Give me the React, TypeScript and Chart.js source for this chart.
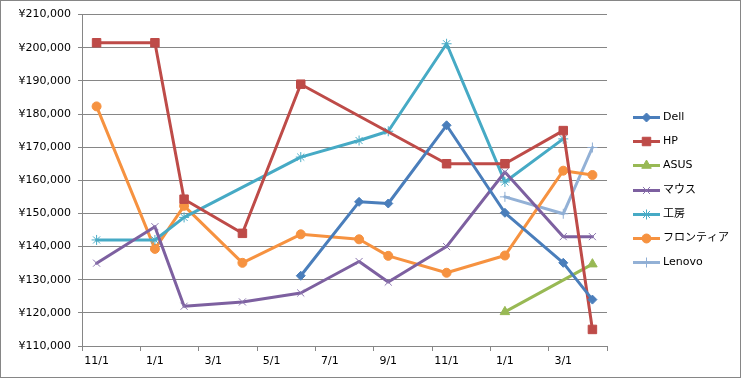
import React, { useEffect, useRef } from "react";
import { Chart, registerables } from "chart.js";
import { drawPoint } from "chart.js/helpers";

Chart.register(...registerables);

const MONTHS = ["11/1", "12/1", "1/1", "2/1", "3/1", "4/1", "5/1", "6/1", "7/1", "8/1", "9/1", "10/1", "11/1", "12/1", "1/1", "2/1", "3/1", "4/1"];

const DELL = [null, null, null, null, null, null, null, 131200, null, 153500, 153000, null, 176600, null, 150200, null, 135100, 124000];
const HP = [201500, null, 201500, 154300, null, 144000, null, 189000, null, null, null, null, 165000, null, 165000, null, 175000, 115000];
const ASUS = [null, null, null, null, null, null, null, null, null, null, null, null, null, null, 120300, null, null, 134700];
const MOUSE = [135000, null, 146000, 122000, null, 123300, null, 126000, null, 135500, 129300, null, 140000, null, 162500, null, 143000, 143000];
const KOBO = [142000, null, 142000, 148800, null, null, null, 167000, null, 172000, 174800, null, 201200, null, 159500, null, 172500, null];
const FRONTIER = [182300, null, 139300, 152300, null, 135100, null, 143700, null, 142200, 137200, null, 132100, null, 137300, null, 162900, 161600];
const LENOVO = [null, null, null, null, null, null, null, null, null, null, null, null, null, null, 155000, null, 149900, 169900];

const Y_MIN = 110000;
const Y_MAX = 210000;
const Y_STEP = 10000;

const FONT = '"DejaVu Sans", "Noto Sans CJK JP", sans-serif';
const GRID = "#868686";

const legendPlugin = {
  id: "sideLegend",
  afterDraw(chart: any) {
    const ctx = chart.ctx;
    const top = 116;
    const step = 24.2;
    chart.data.datasets.forEach((ds: any, i: number) => {
      const y = Math.round(top + i * step) + 0.5;
      ctx.save();
      ctx.strokeStyle = ds.borderColor;
      ctx.lineWidth = 3;
      ctx.beginPath();
      ctx.moveTo(632, y);
      ctx.lineTo(659, y);
      ctx.stroke();
      ctx.fillStyle = ds.pointBackgroundColor;
      ctx.strokeStyle = ds.pointBorderColor;
      ctx.lineWidth = ds.pointBorderWidth;
      drawPoint(ctx, { pointStyle: ds.pointStyle, radius: ds.pointRadius, borderWidth: ds.pointBorderWidth, rotation: 0 } as any, 645.5, y);
      ctx.fillStyle = "#000";
      ctx.font = `11px ${FONT}`;
      ctx.textBaseline = "middle";
      ctx.textAlign = "left";
      ctx.fillText(ds.label, 662, y);
      ctx.restore();
    });
  },
};

function series(label: string, data: (number | null)[], color: string, style: string, radius: number, markerColor?: string) {
  const mc = markerColor || color;
  return {
    label,
    data,
    borderColor: color,
    borderWidth: 3,
    borderJoinStyle: "round",
    borderCapStyle: "round",
    pointStyle: style,
    pointRadius: radius,
    pointBackgroundColor: mc,
    pointBorderColor: mc,
    pointBorderWidth: 1,
    spanGaps: true,
    tension: 0,
  };
}

export default function App() {
  const ref = useRef<HTMLCanvasElement>(null);
  useEffect(() => {
    document.body.style.margin = "0";
    const chart = new Chart(ref.current!, {
      type: "line",
      data: {
        labels: MONTHS,
        datasets: [
          series("Dell", DELL, "#4A7EBB", "rectRot", 4.5),
          series("HP", HP, "#BE4B48", "rect", 6),
          series("ASUS", ASUS, "#98B954", "triangle", 5.5),
          series("マウス", MOUSE, "#7D60A0", "crossRot", 5, "#8A74AE"),
          series("工房", KOBO, "#46AAC5", "star", 5, "#4BACC6"),
          series("フロンティア", FRONTIER, "#F69240", "circle", 4.5),
          series("Lenovo", LENOVO, "#93B1D6", "cross", 5, "#8FAED4"),
        ] as any,
      },
      options: {
        responsive: false,
        animation: false,
        events: [],
        layout: { padding: { left: 0, top: 12, right: 135, bottom: 0 } },
        plugins: { legend: { display: false }, tooltip: { enabled: false } },
        scales: {
          x: {
            type: "category",
            offset: true,
            afterFit: (s: any) => {
              s.height = 33;
            },
            grid: {
              offset: true,
              drawOnChartArea: false,
              drawTicks: true,
              tickLength: 5,
              color: GRID,
              tickColor: (c: any) => (c.index === undefined || c.index % 2 === 0 ? GRID : "rgba(0,0,0,0)"),
            },
            border: { display: true, color: GRID, width: 1 },
            ticks: {
              autoSkip: false,
              maxRotation: 0,
              minRotation: 0,
              padding: 4,
              color: "#000",
              font: { family: FONT, size: 11 },
              callback: (v: any, i: number) => (i % 2 === 0 ? MONTHS[i] : ""),
            },
          },
          y: {
            min: Y_MIN,
            max: Y_MAX,
            afterFit: (s: any) => {
              s.width = 81;
            },
            grid: { color: GRID, tickLength: 4, lineWidth: 1 },
            border: { display: true, color: GRID, width: 1 },
            ticks: {
              stepSize: Y_STEP,
              padding: 7,
              color: "#000",
              font: { family: FONT, size: 11 },
              callback: (v: any) => "¥" + Number(v).toLocaleString("en-US"),
            },
          },
        },
      },
      plugins: [legendPlugin],
    });
    return () => chart.destroy();
  }, []);
  return (
    <div style={{ position: "fixed", left: 0, top: 0, width: 741, height: 378, boxSizing: "border-box", border: `1px solid ${GRID}`, background: "#fff" }}>
      <canvas ref={ref} width={741} height={378} style={{ position: "absolute", left: 0, top: 0 }} />
    </div>
  );
}
